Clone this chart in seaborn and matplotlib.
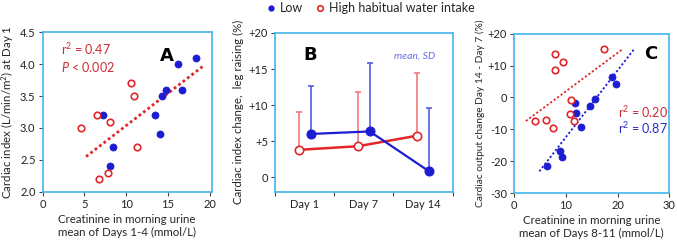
import numpy as np
import pandas as pd
import seaborn as sns
import matplotlib.pyplot as plt
from matplotlib.lines import Line2D

# panel A: creatinine day 1-4 vs cardiac index day 1
a_low_x = [7.2, 8.4, 8.05, 13.4, 14.0, 14.3, 14.7, 16.2, 16.7, 18.3]
a_low_y = [3.2, 2.7, 2.4, 3.2, 2.9, 3.5, 3.6, 4.0, 3.6, 4.1]
a_high_x = [4.6, 6.5, 8.1, 10.6, 10.9, 11.3, 6.75, 7.8]
a_high_y = [3.0, 3.2, 3.1, 3.7, 3.5, 2.7, 2.2, 2.3]
a_fit_x = [5.2, 19.2]
a_fit_y = [2.55, 3.97]

# panel B: cardiac index change with leg raising, mean and SD
days = ['Day 1', 'Day 7', 'Day 14']
b_low_mean = [6.0, 6.35, 0.83]
b_low_sd = [6.6, 9.55, 8.7]
b_high_mean = [3.8, 4.3, 5.76]
b_high_sd = [5.2, 7.45, 8.7]

# panel C: creatinine day 8-11 vs cardiac output change
c_low_x = [6.4, 8.8, 9.2, 11.7, 11.9, 13.0, 14.6, 15.7, 19.0, 19.7]
c_low_y = [-21.4, -16.8, -18.7, -1.8, -4.9, -9.3, -2.6, -0.4, 6.3, 4.1]
c_high_x = [7.9, 9.5, 7.9, 17.4, 11.1, 10.9, 11.5, 4.0, 6.1, 7.5]
c_high_y = [13.5, 11.2, 8.7, 15.2, -0.8, -5.2, -7.4, -7.4, -7.2, -9.5]
c_fit_high_x = [2.3, 21.0]
c_fit_high_y = [-7.4, 15.2]
c_fit_low_x = [4.9, 23.2]
c_fit_low_y = [-23.2, 15.2]

BLUE = '#1c1cd2'
RED = '#e3262a'
TXT_RED = '#cc2a36'
TXT_BLUE = '#2a2ac8'
SPINE = '#45b5ea'

sns.set_theme(style='ticks')
plt.rcParams['font.family'] = ['Lato', 'DejaVu Sans']
plt.rcParams['font.size'] = 7.5
plt.rcParams['mathtext.fontset'] = 'custom'
plt.rcParams['mathtext.rm'] = 'Lato'
plt.rcParams['mathtext.it'] = 'Lato:italic'

fig = plt.figure(figsize=(6.77, 2.41), dpi=100)
axA = fig.add_axes([0.0628, 0.2046, 0.2503, 0.6615])
axB = fig.add_axes([0.4062, 0.2046, 0.2625, 0.6587])
axC = fig.add_axes([0.7592, 0.199, 0.2296, 0.661])


def style(ax):
    for s in ax.spines.values():
        s.set_color(SPINE)
        s.set_linewidth(1.2)
    ax.tick_params(axis='both', which='major', length=3, width=0.8, color='#444444',
                   labelsize=8, pad=2, labelcolor='#222222')


def pts(ax, x, y, filled):
    df = pd.DataFrame({'x': x, 'y': y})
    if filled:
        sns.scatterplot(data=df, x='x', y='y', ax=ax, color=BLUE, edgecolor=BLUE,
                        s=26, linewidth=0.5, zorder=3)
    else:
        sns.scatterplot(data=df, x='x', y='y', ax=ax, color='white', edgecolor=RED,
                        s=22, linewidth=1.2, zorder=3)


# A
pts(axA, a_low_x, a_low_y, True)
pts(axA, a_high_x, a_high_y, False)
sns.lineplot(x=a_fit_x, y=a_fit_y, ax=axA, color=RED, lw=2.0, linestyle=(0, (1, 1)), zorder=2)
axA.set_xlim(0, 20.25)
axA.set_ylim(2.0, 4.5)
axA.set_xticks([0, 5, 10, 15, 20])
axA.set_yticks([2.0, 2.5, 3.0, 3.5, 4.0, 4.5])
axA.set_yticklabels(['2.0', '2.5', '3.0', '3.5', '4.0', '4.5'])
axA.set_xlabel('Creatinine in morning urine\nmean of Days 1-4 (mmol/L)', fontsize=8.3, labelpad=3,
               linespacing=1.2)
axA.set_ylabel('Cardiac index (L/min/m$^2$) at Day 1', fontsize=8.3, labelpad=3)
axA.text(0.11, 0.86, 'r$^2$ = 0.47', transform=axA.transAxes, color=TXT_RED, fontsize=9)
axA.text(0.11, 0.75, '$P$ < 0.002', transform=axA.transAxes, color=TXT_RED, fontsize=9)
axA.text(0.69, 0.82, 'A', transform=axA.transAxes, fontsize=13, fontweight='bold',
         family='DejaVu Sans', color='black')
style(axA)

# B
pos = np.arange(len(days))
off = 0.1
axB.errorbar(pos - off, b_high_mean, yerr=[np.zeros(3), b_high_sd], fmt='none',
             ecolor='#f07a7a', elinewidth=1.2, capsize=2, capthick=1.2, zorder=1)
axB.errorbar(pos + off, b_low_mean, yerr=[np.zeros(3), b_low_sd], fmt='none',
             ecolor='#5a5ae6', elinewidth=1.2, capsize=2, capthick=1.2, zorder=1)
sns.lineplot(x=pos - off, y=b_high_mean, ax=axB, color=RED, lw=1.8, marker='o',
             markersize=6, markerfacecolor='white', markeredgecolor=RED, markeredgewidth=1.2,
             zorder=3)
sns.lineplot(x=pos + off, y=b_low_mean, ax=axB, color=BLUE, lw=1.6, marker='o',
             markersize=6.5, markerfacecolor=BLUE, markeredgecolor=BLUE, zorder=4)
axB.set_xlim(-0.5, 2.5)
axB.set_ylim(-2, 20)
axB.set_xticks([-0.5, 0.5, 1.5, 2.5])
axB.set_xticklabels([])
axB.set_xticks(pos, minor=True)
axB.set_xticklabels(days, minor=True)
axB.tick_params(axis='x', which='minor', length=0, labelsize=8, pad=5, labelcolor='#222222')
axB.set_yticks([0, 5, 10, 15, 20])
axB.set_yticklabels(['0', '+5', '+10', '+15', '+20'])
axB.set_ylabel('Cardiac index change,  leg raising (%)', fontsize=8.3, labelpad=3)
axB.set_xlabel('')
axB.text(0.16, 0.83, 'B', transform=axB.transAxes, fontsize=13, fontweight='bold',
         family='DejaVu Sans', color='black')
axB.text(0.9, 0.84, 'mean, SD', transform=axB.transAxes, fontsize=7.5, style='italic',
         color='#6a6ae8', ha='right')
style(axB)
axB.tick_params(axis='x', which='major', length=3)

# C
pts(axC, c_low_x, c_low_y, True)
pts(axC, c_high_x, c_high_y, False)
sns.lineplot(x=c_fit_high_x, y=c_fit_high_y, ax=axC, color=RED, lw=1.3,
             linestyle=(0, (1.2, 1.2)), zorder=2)
sns.lineplot(x=c_fit_low_x, y=c_fit_low_y, ax=axC, color=BLUE, lw=1.3,
             linestyle=(0, (1.2, 1.2)), zorder=2)
axC.set_xlim(0, 30)
axC.set_ylim(-30, 20)
axC.set_xticks([0, 10, 20, 30])
axC.set_yticks([-30, -20, -10, 0, 10, 20])
axC.set_yticklabels(['-30', '-20', '-10', '0', '+10', '+20'])
axC.set_xlabel('Creatinine in morning urine\nmean of Days 8-11 (mmol/L)', fontsize=8.3, labelpad=3,
               linespacing=1.2)
axC.set_ylabel('Cardiac output change Day 14 - Day 7 (%)', fontsize=7.3, labelpad=2)
axC.text(0.67, 0.47, 'r$^2$ = 0.20', transform=axC.transAxes, color=TXT_RED, fontsize=9)
axC.text(0.67, 0.37, 'r$^2$ = 0.87', transform=axC.transAxes, color=TXT_BLUE, fontsize=9)
axC.text(0.84, 0.84, 'C', transform=axC.transAxes, fontsize=13, fontweight='bold',
         family='DejaVu Sans', color='black')
style(axC)

handles = [
    Line2D([], [], marker='o', ls='none', color=BLUE, markersize=3.5),
    Line2D([], [], marker='o', ls='none', markerfacecolor='white', markeredgecolor=RED,
           markeredgewidth=1.2, markersize=4),
]
fig.legend(handles, ['Low', 'High habitual water intake'], loc='center',
           bbox_to_anchor=(0.547, 0.965), ncol=2, frameon=False, fontsize=9,
           handletextpad=0.3, columnspacing=1.0, handlelength=0.8)

fig.savefig('out.png', dpi=100)
